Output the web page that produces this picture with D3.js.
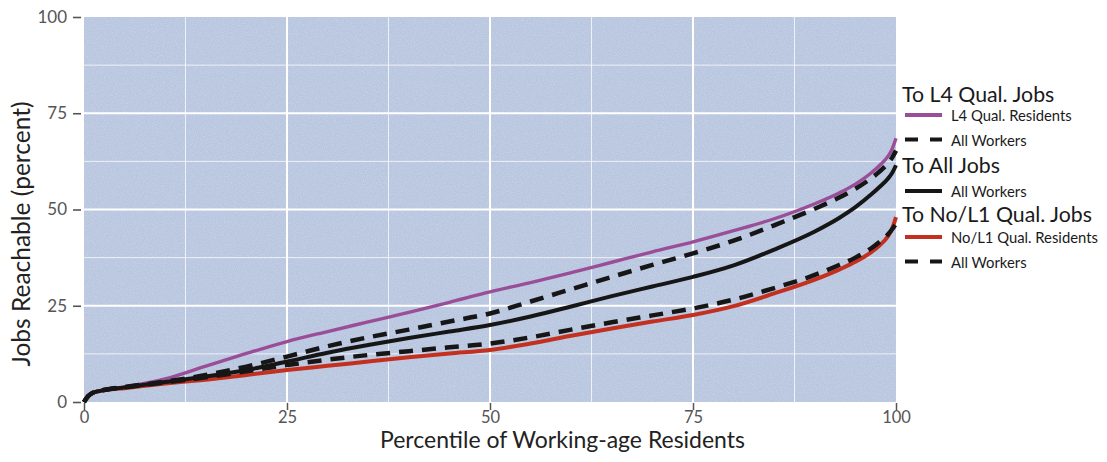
<!DOCTYPE html>
<html><head><meta charset="utf-8">
<script src="https://cdn.jsdelivr.net/npm/d3@7"></script>
<style>html,body{margin:0;padding:0;background:#fff;}svg{display:block;}</style>
</head><body><svg id="c" width="1107" height="462"></svg>
<script>
const percentiles = [0,0.5,1,2,5,10,15,20,25,30,35,40,45,50,55,60,65,70,75,80,85,90,93,95,97,98,99,99.5,100];
const l4Residents   = [0,1.5,2.3,2.9,3.9,6.0,9.3,12.6,15.7,18.3,20.8,23.3,25.9,28.6,31.0,33.6,36.3,39.0,41.6,44.5,47.6,51.5,54.3,56.6,59.6,61.5,63.8,65.6,68.5];
const l4AllWorkers  = [0,1.5,2.3,2.9,3.9,5.3,7.0,9.2,11.8,14.5,16.8,18.8,20.9,23.0,26.1,29.3,32.5,35.6,38.6,41.9,45.9,50.2,53.1,55.4,58.2,59.9,62.0,63.4,65.3];
const allJobsAll    = [0,1.5,2.3,2.9,3.8,5.2,6.6,8.3,10.5,12.8,14.8,16.6,18.3,20.0,22.2,24.8,27.5,30.0,32.5,35.5,39.6,44.3,47.8,50.6,54.0,55.9,58.0,59.4,61.5];
const l1AllWorkers  = [0,1.5,2.3,2.9,3.8,5.1,6.4,8.0,9.6,11.0,12.2,13.2,14.2,15.2,16.8,18.8,20.7,22.5,24.3,26.6,29.6,33.0,35.6,37.5,40.0,41.6,43.5,44.8,46.3];
const l1Residents   = [0,1.5,2.3,2.9,3.6,4.8,5.8,7.0,8.3,9.4,10.5,11.6,12.6,13.5,15.2,17.2,19.1,20.9,22.6,24.9,28.2,31.8,34.4,36.4,39.0,40.7,43.0,44.9,48.0];
const tickValues = [0,25,50,75,100];
const minorTicks = [12.5,37.5,62.5,87.5];
const xTitle = "Percentile of Working-age Residents";
const yTitle = "Jobs Reachable (percent)";
const legendGroups = [
  {title:"To L4 Qual. Jobs", items:[{label:"L4 Qual. Residents", key:"l4r"},{label:"All Workers", key:"l4a"}]},
  {title:"To All Jobs", items:[{label:"All Workers", key:"all"}]},
  {title:"To No/L1 Qual. Jobs", items:[{label:"No/L1 Qual. Residents", key:"l1r"},{label:"All Workers", key:"l1a"}]}
];

const seriesData = {l4r:l4Residents, l4a:l4AllWorkers, all:allJobsAll, l1a:l1AllWorkers, l1r:l1Residents};
const styles = {
  l4r:{color:"#9a4e98", width:3.4, dash:null},
  l1r:{color:"#c4301f", width:4, dash:null},
  all:{color:"#161616", width:4, dash:null},
  l4a:{color:"#161616", width:4.5, dash:"14,9"},
  l1a:{color:"#161616", width:4.5, dash:"14,9"}
};
const drawOrder = ["l4r","l1r","all","l4a","l1a"];

const svg = d3.select("#c");
const font = "Lato, 'Open Sans', sans-serif";
const x = d3.scaleLinear().domain([0,100]).range([84,896]);
const y = d3.scaleLinear().domain([0,100]).range([402,17]);

// panel
svg.append("rect").attr("x",x(0)).attr("y",y(100)).attr("width",x(100)-x(0)).attr("height",y(0)-y(100)).attr("fill","#b8c6df");

// texture (subtle noise)
const defs = svg.append("defs");
const filt = defs.append("filter").attr("id","noise").attr("x",0).attr("y",0).attr("width","100%").attr("height","100%");
filt.append("feTurbulence").attr("type","fractalNoise").attr("baseFrequency",0.9).attr("numOctaves",2).attr("seed",3).attr("result","t");
filt.append("feColorMatrix").attr("in","t").attr("type","matrix").attr("values","0 0 0 0 1  0 0 0 0 1  0 0 0 0 1  0 0 0 -1.2 0.75");
svg.append("rect").attr("x",x(0)).attr("y",y(100)).attr("width",x(100)-x(0)).attr("height",y(0)-y(100)).attr("filter","url(#noise)").attr("opacity",0.35);

// grid
const grid = svg.append("g");
minorTicks.forEach(v=>{
  grid.append("line").attr("x1",x(v)).attr("x2",x(v)).attr("y1",y(0)).attr("y2",y(100)).attr("stroke","#fff").attr("stroke-opacity",0.75).attr("stroke-width",1);
  grid.append("line").attr("y1",y(v)).attr("y2",y(v)).attr("x1",x(0)).attr("x2",x(100)).attr("stroke","#fff").attr("stroke-opacity",0.75).attr("stroke-width",1);
});
tickValues.filter(v=>v>0&&v<100).forEach(v=>{
  grid.append("line").attr("x1",x(v)).attr("x2",x(v)).attr("y1",y(0)).attr("y2",y(100)).attr("stroke","#fff").attr("stroke-width",2);
  grid.append("line").attr("y1",y(v)).attr("y2",y(v)).attr("x1",x(0)).attr("x2",x(100)).attr("stroke","#fff").attr("stroke-width",2);
});

// axes
const xAxis = d3.axisBottom(x).tickValues(tickValues).tickSize(7).tickPadding(1).tickSizeOuter(0);
const gx = svg.append("g").attr("transform",`translate(0,${y(0)+1})`).call(xAxis);
gx.select(".domain").remove();
gx.selectAll("line").attr("stroke","#555").attr("stroke-width",1.5);
gx.selectAll("text").attr("fill","#555").style("font-family",font).style("font-size","16.5px");

const yAxis = d3.axisLeft(y).tickValues(tickValues).tickSize(8).tickPadding(6).tickSizeOuter(0);
const gy = svg.append("g").attr("transform",`translate(${x(0)-3},0)`).call(yAxis);
gy.select(".domain").remove();
gy.selectAll("line").attr("stroke","#555").attr("stroke-width",1.6);
gy.selectAll("text").attr("fill","#555").style("font-family",font).style("font-size","17px");

// axis titles
function fitText(sel, target){
  const w = sel.node().getComputedTextLength();
  const fs = parseFloat(sel.style("font-size"));
  sel.style("font-size",(fs*target/w).toFixed(2)+"px");
}
const xt = svg.append("text").attr("x",(380+745)/2).attr("y",448).attr("text-anchor","middle")
  .attr("fill","#222").style("font-family",font).style("font-size","20px").text(xTitle);
fitText(xt,365);
const yt = svg.append("text").attr("transform",`translate(30,234) rotate(-90)`).attr("text-anchor","middle")
  .attr("fill","#222").style("font-family",font).style("font-size","20px").text(yTitle);
fitText(yt,265);

// lines
const line = d3.line().x((d,i)=>x(percentiles[i])).y(d=>y(d)).curve(d3.curveMonotoneX);
drawOrder.forEach(k=>{
  const s = styles[k];
  svg.append("path").datum(seriesData[k]).attr("d",line).attr("fill","none")
    .attr("stroke",s.color).attr("stroke-width",s.width).attr("stroke-dasharray",s.dash)
    .attr("stroke-linejoin","round");
});

// legend
const lg = svg.append("g");
const titleBase = [102,173,222];
const firstItem = [115,191,237];
const titles = [], labels = [];
legendGroups.forEach((g,gi)=>{
  titles.push(lg.append("text").attr("x",902).attr("y",titleBase[gi]).attr("fill","#1a1a1a").style("font-family",font).style("font-size","20px").text(g.title));
  g.items.forEach((it,ii)=>{
    const cy = firstItem[gi] + ii*24.5;
    const s = styles[it.key];
    lg.append("line").attr("x1",905).attr("x2",942).attr("y1",cy).attr("y2",cy)
      .attr("stroke",s.color).attr("stroke-width",s.dash?4.2:3.8).attr("stroke-dasharray",s.dash?"13,12":null);
    labels.push(lg.append("text").attr("x",951).attr("y",cy+6).attr("fill","#1a1a1a").style("font-family",font).style("font-size","14px").text(it.label));
  });
});
// size legend fonts so the longest entries match the reference widths
const tW = titles[2].node().getComputedTextLength();
const tFs = (20*190/tW).toFixed(2)+"px";
titles.forEach(t=>t.style("font-size",tFs));
const lW = labels[3].node().getComputedTextLength();
const lFs = (14*147/lW).toFixed(2)+"px";
labels.forEach(t=>t.style("font-size",lFs));
</script></body></html>
